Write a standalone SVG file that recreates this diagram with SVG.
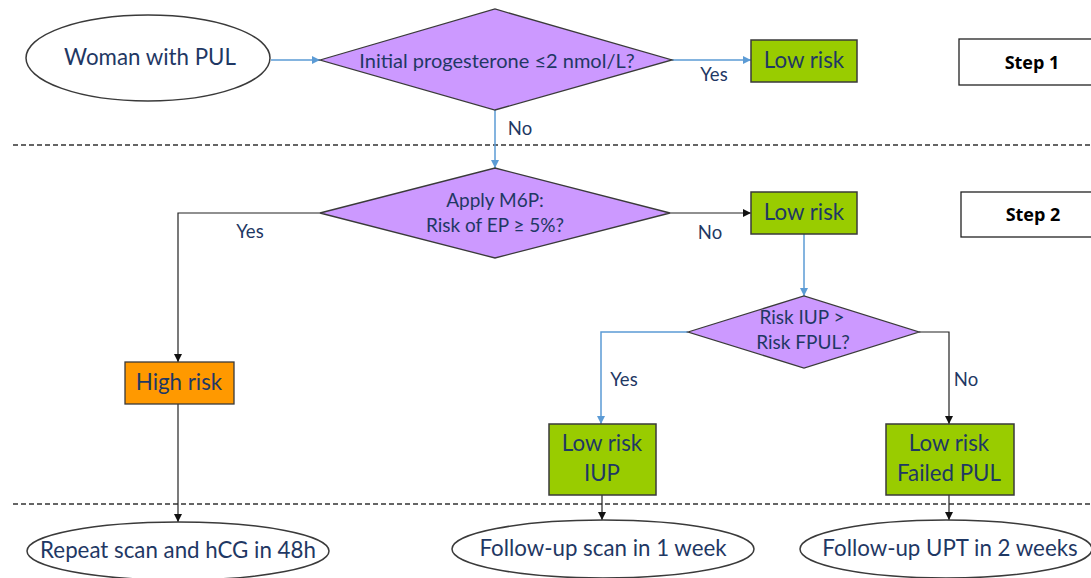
<svg xmlns="http://www.w3.org/2000/svg" width="1091" height="578" viewBox="0 0 1091 578">
<style>
text{font-family:Lato,"Open Sans","Liberation Sans",sans-serif;fill:#1F3864;text-anchor:middle}
.ell{fill:#fff;stroke:#3a3a3a;stroke-width:1.5}
.dia{fill:#CC99FF;stroke:#3a3a3a;stroke-width:1.3}
.grn{fill:#99CC00;stroke:#3a3a3a;stroke-width:1.5}
.org{fill:#FF9900;stroke:#3a3a3a;stroke-width:1.3}
.step{fill:#fff;stroke:#222;stroke-width:1.3}
.bl{fill:none;stroke:#5B9BD5;stroke-width:1.5}
.bk{fill:none;stroke:#222;stroke-width:1.2}
.dash{stroke:#333;stroke-width:1.5;stroke-dasharray:5 3}
.n{font-size:22.3px}
.d{font-size:19px}
.d1{font-size:20px}
.lab{font-size:18.5px}
.st{font-family:"Open Sans","Liberation Sans",sans-serif;font-weight:bold;font-size:18px;fill:#000}
</style>
<defs>
<marker id="ab" viewBox="0 0 10 10" refX="10" refY="5" markerWidth="8" markerHeight="8" markerUnits="userSpaceOnUse" orient="auto"><path d="M0,0L10,5L0,10z" fill="#5B9BD5"/></marker>
<marker id="ak" viewBox="0 0 10 10" refX="10" refY="5" markerWidth="8" markerHeight="8" markerUnits="userSpaceOnUse" orient="auto"><path d="M0,0L10,5L0,10z" fill="#111"/></marker>
</defs>
<rect width="1091" height="578" fill="#fff"/>
<g id="dividers">
<line class="dash" x1="13" y1="145" x2="1091" y2="145"/>
<line class="dash" x1="13" y1="504" x2="1091" y2="504"/>
</g>
<g id="connectors">
<line class="bl" x1="271" y1="60" x2="320" y2="60" marker-end="url(#ab)"/>
<line class="bl" x1="672" y1="60" x2="751" y2="60" marker-end="url(#ab)"/>
<line class="bl" x1="495" y1="110" x2="495" y2="168" marker-end="url(#ab)"/>
<polyline class="bk" points="320,213 178,213 178,362" marker-end="url(#ak)"/>
<line class="bk" x1="670" y1="213" x2="751" y2="213" marker-end="url(#ak)"/>
<line class="bl" x1="804" y1="234" x2="804" y2="296" marker-end="url(#ab)"/>
<polyline class="bl" points="688,332 601,332 601,424" marker-end="url(#ab)"/>
<polyline class="bk" points="919,332 949,332 949,424" marker-end="url(#ak)"/>
<line class="bk" x1="178" y1="404" x2="178" y2="522" marker-end="url(#ak)"/>
<line class="bk" x1="602" y1="495" x2="602" y2="520" marker-end="url(#ak)"/>
<line class="bk" x1="949" y1="495" x2="949" y2="520" marker-end="url(#ak)"/>
<text class="lab" x="714" y="81">Yes</text>
<text class="lab" x="520" y="135">No</text>
<text class="lab" x="250" y="238">Yes</text>
<text class="lab" x="710" y="239">No</text>
<text class="lab" x="624" y="386">Yes</text>
<text class="lab" x="966" y="386">No</text>
</g>
<g id="start">
<ellipse class="ell" cx="148" cy="58" rx="122" ry="43"/>
<text class="n" x="150" y="65">Woman with PUL</text>
</g>
<g id="q1">
<polygon class="dia" points="320,60 495,9 672,60 495,110"/>
<text class="d1" x="497" y="68">Initial progesterone ≤2 nmol/L?</text>
</g>
<g id="low1">
<rect class="grn" x="751" y="40" width="106" height="42"/>
<text class="n" x="804" y="68">Low risk</text>
</g>
<g id="step1">
<rect class="step" x="959" y="39" width="140" height="46"/>
<text class="st" x="1032" y="69">Step 1</text>
</g>
<g id="q2">
<polygon class="dia" points="320,213 495,168 670,213 495,258"/>
<text class="d" x="495" y="207">Apply M6P:</text>
<text class="d" x="495" y="232">Risk of EP ≥ 5%?</text>
</g>
<g id="low2">
<rect class="grn" x="751" y="192" width="106" height="42"/>
<text class="n" x="804" y="220">Low risk</text>
</g>
<g id="step2">
<rect class="step" x="961" y="192" width="140" height="45"/>
<text class="st" x="1033" y="221">Step 2</text>
</g>
<g id="q3">
<polygon class="dia" points="688,332 804,296 919,332 804,368"/>
<text class="d" x="802" y="324">Risk IUP &gt;</text>
<text class="d" x="803" y="349">Risk FPUL?</text>
</g>
<g id="high">
<rect class="org" x="125" y="362" width="109" height="42"/>
<text class="n" x="179" y="390">High risk</text>
</g>
<g id="lowiup">
<rect class="grn" x="549" y="424" width="107" height="71"/>
<text class="n" x="602" y="451">Low risk</text>
<text class="n" x="602" y="481">IUP</text>
</g>
<g id="lowfpul">
<rect class="grn" x="886" y="424" width="128" height="71"/>
<text class="n" x="949" y="451">Low risk</text>
<text class="n" x="949" y="481">Failed PUL</text>
</g>
<g id="out1">
<ellipse class="ell" cx="178" cy="551" rx="151" ry="29"/>
<text class="n" x="178" y="558">Repeat scan and hCG in 48h</text>
</g>
<g id="out2">
<ellipse class="ell" cx="603" cy="549" rx="151" ry="29"/>
<text class="n" x="603" y="556">Follow-up scan in 1 week</text>
</g>
<g id="out3">
<ellipse class="ell" cx="946" cy="549" rx="146" ry="29"/>
<text class="n" x="950" y="556">Follow-up UPT in 2 weeks</text>
</g>
</svg>
